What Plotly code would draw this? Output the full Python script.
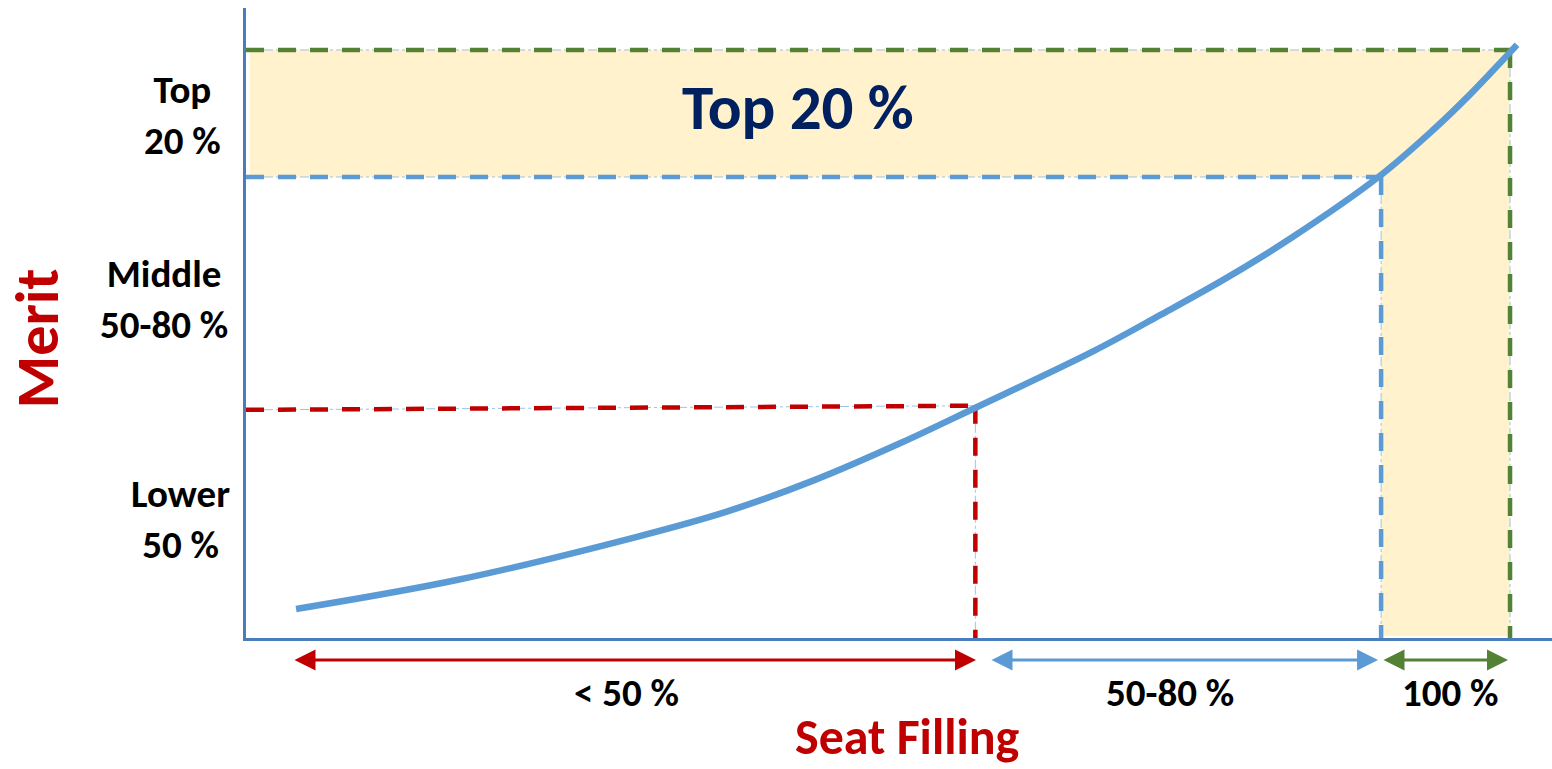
import plotly.graph_objects as go

# Merit curve: seat filling (x) vs merit (y)
curve_x = [3.96, 16.77, 30.93, 37.97, 45.02, 51.74, 57.67, 67.01, 72.31, 77.61,
           82.83, 89.56, 93.91, 96.60, 99.84, 100.55]
curve_y = [4.93, 9.90, 17.21, 21.45, 26.89, 33.11, 39.12, 48.74, 54.90, 61.28,
           68.23, 78.35, 86.39, 91.94, 99.25, 100.90]

# Seat-filling breakpoints and merit thresholds
lower_seat = 57.7
middle_seat = 89.8
top_seat = 100.0
lower_merit = [38.8, 39.5]   # left / right end of the lower cut-off line
middle_merit = 78.4
top_merit = 100.0

# Merit band labels (y position of each block, x in paper units)
merit_labels = ["Top<br>20 %", "Middle<br>50-80 %", "Lower<br>50 %"]
merit_label_y = [88.9, 57.7, 20.2]
merit_label_x = [-0.049, -0.0628, -0.0505]

# Seat-filling ranges shown with double arrows
range_labels = ["< 50 %", "50-80 %", "100 %"]
range_start = [3.72, 58.86, 89.87]
range_end = [57.75, 89.56, 99.84]
range_label_x = [30.14, 73.1, 95.3]

RED = "#c00000"
BLUE = "#5b9bd5"
GREEN = "#548235"
FILL = "#fff2cc"
THIN = "#9dc3e6"
AXIS = "#4a7ebb"
FONT = "Carlito, Lato, sans-serif"

fig = go.Figure()

# shaded top band and 100 % column
fig.add_shape(type="rect", xref="x", yref="y", x0=0.3, x1=top_seat,
              y0=middle_merit, y1=top_merit, fillcolor=FILL, line_width=0, layer="below")
fig.add_shape(type="rect", xref="x", yref="y", x0=middle_seat, x1=top_seat,
              y0=0.3, y1=middle_merit, fillcolor=FILL, line_width=0, layer="below")


def guide(xs, ys, color):
    # thin dash-dot companion line
    fig.add_trace(go.Scatter(x=xs, y=ys, mode="lines", hoverinfo="skip",
                             line=dict(color=THIN, width=1, dash="dashdot")))
    # thick dashed line
    fig.add_trace(go.Scatter(x=xs, y=ys, mode="lines", hoverinfo="skip",
                             line=dict(color=color, width=4.5, dash="18px,14px")))


guide([0, lower_seat], lower_merit, RED)
guide([lower_seat, lower_seat], [lower_merit[1], 0], RED)
guide([0, middle_seat], [middle_merit, middle_merit], BLUE)
guide([middle_seat, middle_seat], [middle_merit, 0], BLUE)
guide([0, top_seat], [top_merit, top_merit], GREEN)
guide([top_seat, top_seat], [top_merit, 0], GREEN)

fig.add_trace(go.Scatter(x=curve_x, y=curve_y, mode="lines", hoverinfo="skip",
                         line=dict(color=BLUE, width=6.5, shape="spline", smoothing=1.0)))

annotations = []
# double arrows under the x axis
arrow_colors = [RED, BLUE, GREEN]
arrow_y = -0.035
for x0, x1, c in zip(range_start, range_end, arrow_colors):
    annotations.append(dict(x=x1, y=arrow_y, ax=x0, ay=0, xref="x", yref="paper",
                            axref="x", ayref="pixel", text="", showarrow=True,
                            arrowhead=2, arrowside="end+start", arrowsize=1.4,
                            arrowwidth=3, arrowcolor=c, standoff=0, startstandoff=0))
for lab, lx in zip(range_labels, range_label_x):
    annotations.append(dict(x=lx, y=-0.0873, xref="x", yref="paper", text="<b>%s</b>" % lab,
                            xanchor="center", yanchor="middle", showarrow=False,
                            font=dict(family=FONT, size=39, color="#000000")))

for lab, lx, ly in zip(merit_labels, merit_label_x, merit_label_y):
    annotations.append(dict(x=lx, y=ly, xref="paper", yref="y", text="<b>%s</b>" % lab,
                            xanchor="center", yanchor="middle", showarrow=False,
                            align="center",
                            font=dict(family=FONT, size=39, color="#000000")))

annotations.append(dict(x=43.7, y=90.2, xref="x", yref="y", text="<b>Top 20 %</b>",
                        xanchor="center", yanchor="middle", showarrow=False,
                        font=dict(family=FONT, size=63, color="#002060")))
annotations.append(dict(x=-0.1600, y=51.0, xref="paper", yref="y", text="<b>Merit</b>",
                        xanchor="center", yanchor="middle", textangle=-90, showarrow=False,
                        font=dict(family=FONT, size=60, color=RED)))
annotations.append(dict(x=52.37, y=-0.1556, xref="x", yref="paper", text="<b>Seat Filling</b>",
                        xanchor="center", yanchor="middle", showarrow=False,
                        font=dict(family=FONT, size=50, color=RED)))

fig.update_layout(
    width=1552, height=769,
    margin=dict(l=246, r=0, t=8, b=131),
    paper_bgcolor="white", plot_bgcolor="white",
    showlegend=False,
    annotations=annotations,
    xaxis=dict(range=[0, 103.32], showgrid=False, zeroline=False, showticklabels=False,
               ticks="", showline=True, linecolor=AXIS, linewidth=2.5, fixedrange=True),
    yaxis=dict(range=[0, 107.14], showgrid=False, zeroline=False, showticklabels=False,
               ticks="", showline=True, linecolor=AXIS, linewidth=2.5, fixedrange=True),
)

fig.write_html("out.html", config={"displayModeBar": False})
